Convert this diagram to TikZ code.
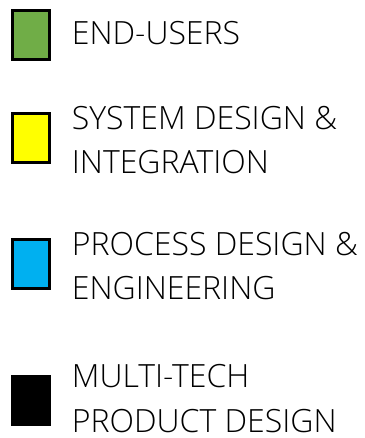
\documentclass[tikz,border=0pt]{standalone}
\usepackage{fontspec}
\setmainfont{Open Sans Light}
\usetikzlibrary{positioning}
\definecolor{key_green}{RGB}{112,173,71}
\definecolor{key_yellow}{RGB}{255,255,0}
\definecolor{key_blue}{RGB}{0,176,240}
\definecolor{key_black}{RGB}{0,0,0}

\begin{document}
\begin{tikzpicture}[x=1pt,y=1pt]
    \tikzstyle{key}=[draw=black, line width=2.4pt, minimum width=37pt, minimum height=49pt, inner sep=0pt]
    \tikzstyle{txt}=[anchor=west, align=left, inner sep=0pt, text=black,
        font=\fontsize{32}{44.5}\selectfont]
    \useasboundingbox (0,0) rectangle (364,-438);

    \node[key, fill=key_green]  (k1) at (31,-35)    {};
    \node[key, fill=key_yellow] (k2) at (31,-138)   {};
    \node[key, fill=key_blue]   (k3) at (31,-264)   {};
    \node[key, fill=key_black]  (k4) at (31,-400.5) {};

    \node[txt, right=21pt of k1, yshift=2pt]  (l1) {END-USERS};
    \node[txt, right=21pt of k2, yshift=-2pt] (l2) {SYSTEM DESIGN \&\\INTEGRATION};
    \node[txt, right=21pt of k3, yshift=-2pt] (l3) {PROCESS DESIGN \&\\ENGINEERING};
    \node[txt, right=21pt of k4, yshift=2pt]  (l4) {MULTI-TECH\\PRODUCT DESIGN};
\end{tikzpicture}
\end{document}
